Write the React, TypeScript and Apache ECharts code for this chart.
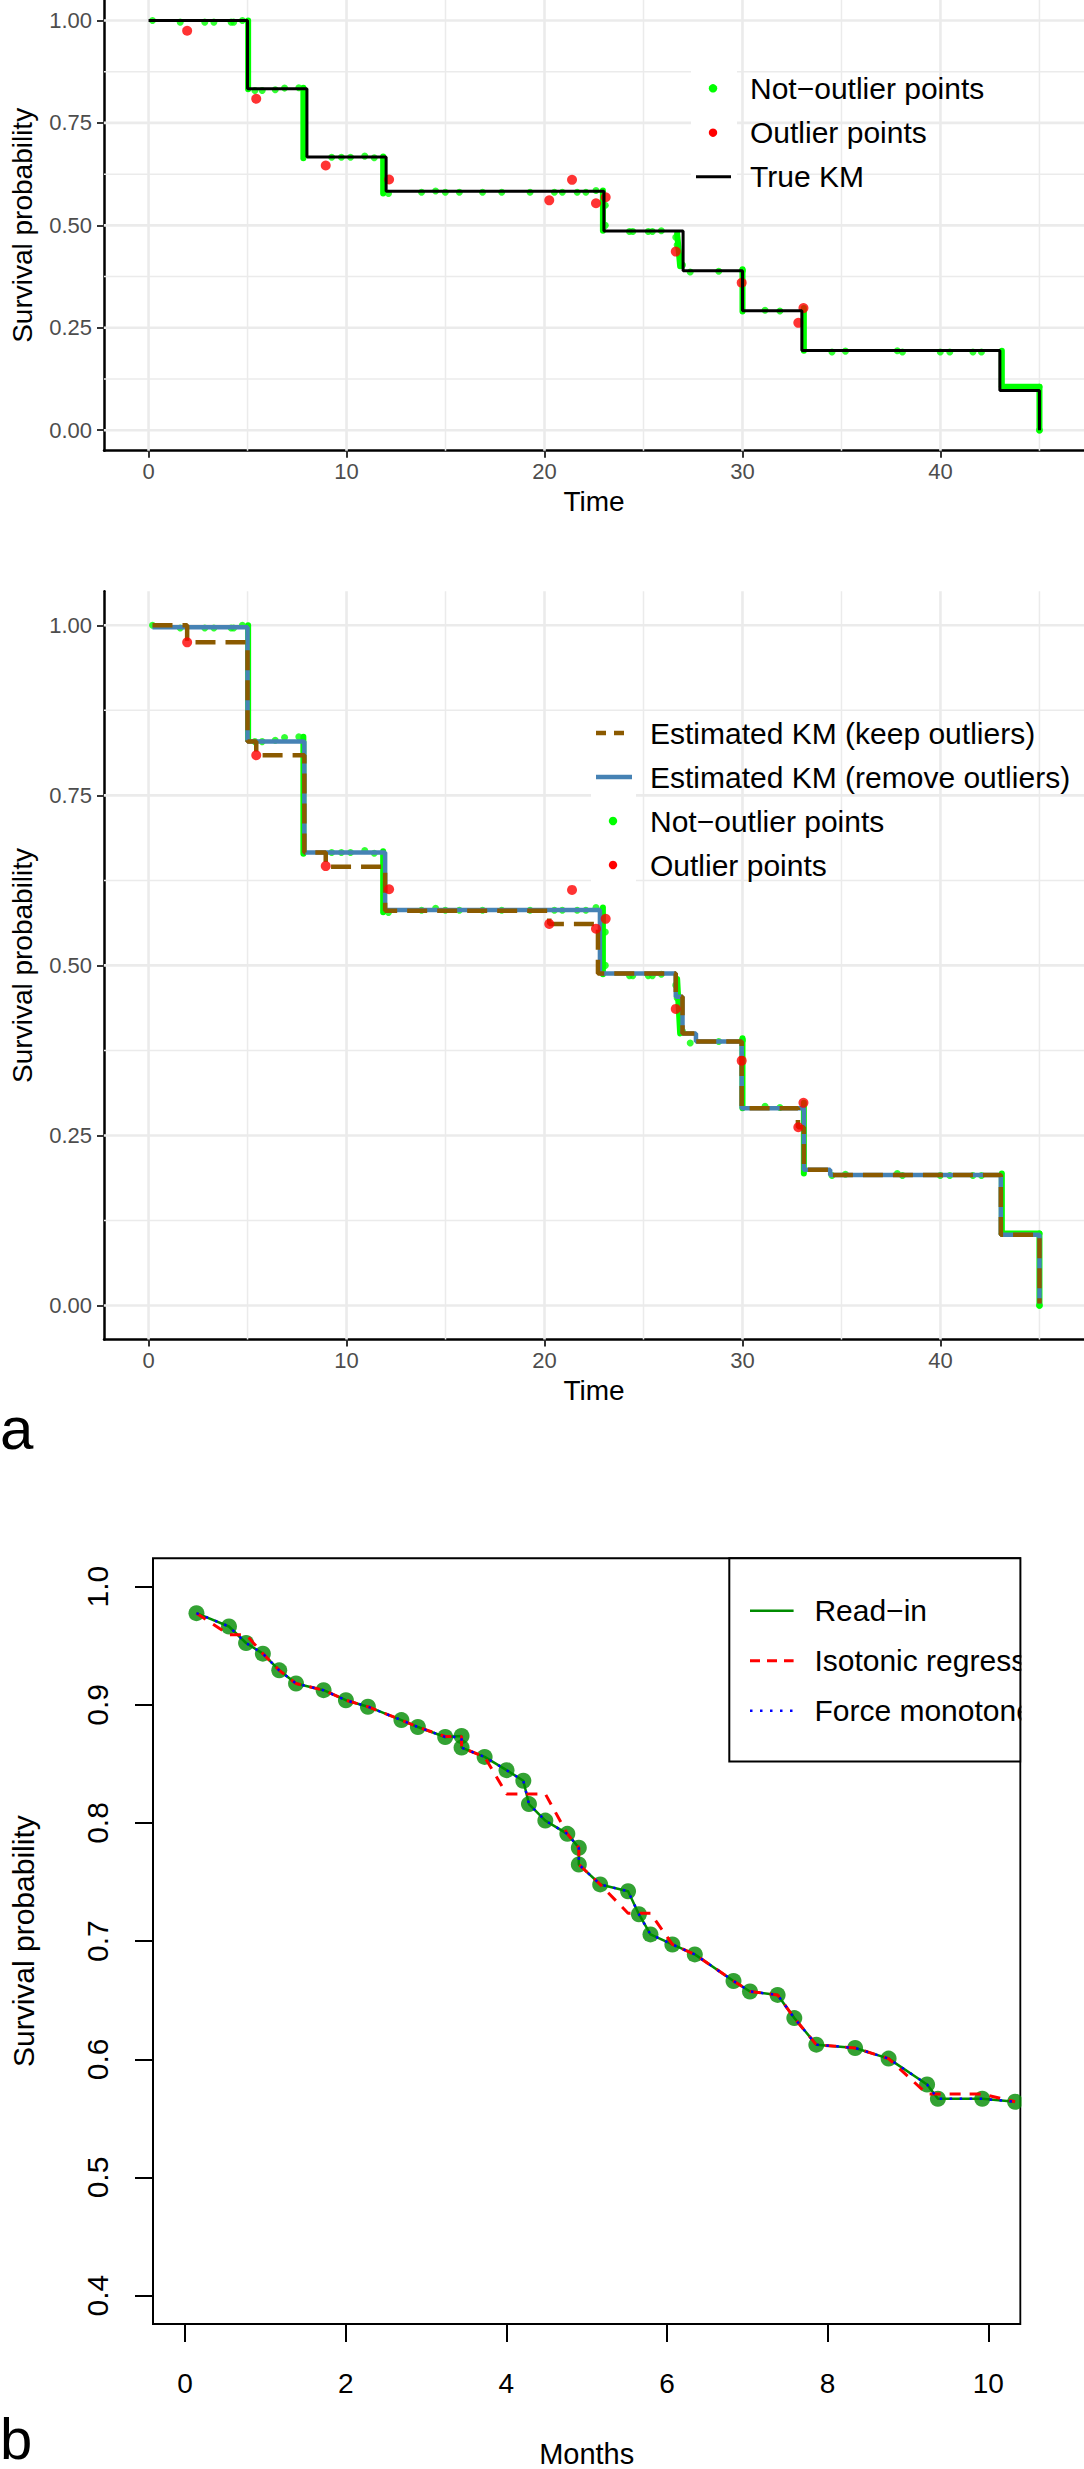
import React, { useEffect, useRef } from "react";
import * as echarts from "echarts";

const FONT = "'Liberation Sans', Arial, Helvetica, sans-serif";

// ---------- Panel a : data (time, survival probability) ----------
const trueKmTime = [0, 5, 8, 12, 23, 27, 30, 33, 43, 45];
const trueKmSurv = [1, 0.8333, 0.6667, 0.5833, 0.4861, 0.3889, 0.2917, 0.1944, 0.0972, 0];

const keepTime = [0.2, 1.95, 5.0, 5.44, 7.87, 8.95, 11.95, 20.24, 22.7, 26.63, 26.97, 27.65, 29.96, 32.8, 33.1, 34.43, 43.05, 45.0];
const keepSurv = [1.0, 0.975, 0.829, 0.809, 0.666, 0.645, 0.5805, 0.561, 0.488, 0.454, 0.4, 0.388, 0.29, 0.262, 0.1994, 0.192, 0.104, 0.003];

const removeTime = [0.2, 5.0, 7.87, 11.95, 22.8, 26.63, 26.97, 27.65, 29.96, 33.1, 34.43, 43.05, 45.0];
const removeSurv = [0.997, 0.829, 0.666, 0.5815, 0.488, 0.454, 0.4, 0.388, 0.29, 0.1994, 0.192, 0.104, 0.003];

const notOutlierTime = [0.2, 1.6, 2.84, 3.3, 4.17, 4.3, 4.74, 5.37, 5.74, 6.4, 6.87, 7.59, 9.25, 9.74, 10.2, 10.92, 11.4, 12.12, 13.79, 14.5, 14.99, 15.7, 16.87, 17.84, 19.27, 20.5, 20.9, 21.65, 22.09, 22.6, 23.07, 23.07, 24.29, 24.46, 25.24, 25.45, 25.9, 26.63, 26.7, 26.97, 27.36, 28.8, 30.0, 31.14, 31.89, 34.52, 35.2, 37.82, 38.08, 39.99, 40.47, 41.64, 42.07, 45.0];
const notOutlierSurv = [1.0, 0.996, 0.996, 0.996, 0.996, 0.996, 1.0, 0.829, 0.829, 0.831, 0.835, 0.836, 0.666, 0.666, 0.666, 0.669, 0.665, 0.578, 0.581, 0.584, 0.581, 0.581, 0.581, 0.581, 0.581, 0.581, 0.581, 0.581, 0.581, 0.585, 0.549, 0.5, 0.485, 0.485, 0.485, 0.485, 0.487, 0.471, 0.452, 0.403, 0.386, 0.388, 0.39, 0.293, 0.291, 0.191, 0.193, 0.194, 0.191, 0.191, 0.191, 0.191, 0.191, 0.0];

// runs of densely packed not-outlier points (start -> end)
const runTime0 = [5.03, 7.82, 11.85, 22.95, 26.7, 30.0, 33.1, 43.1, 43.1, 45.0];
const runSurv0 = [1.0, 0.836, 0.668, 0.585, 0.48, 0.393, 0.298, 0.194, 0.106, 0.106];
const runTime1 = [5.03, 7.82, 11.85, 22.95, 26.85, 30.0, 33.1, 43.1, 45.0, 45.0];
const runSurv1 = [0.832, 0.664, 0.578, 0.487, 0.4, 0.29, 0.194, 0.106, 0.106, 0.0];

const outlierTime = [1.95, 5.44, 8.95, 12.15, 20.24, 21.39, 22.6, 23.09, 26.63, 29.96, 33.08, 32.82];
const outlierSurv = [0.975, 0.809, 0.646, 0.612, 0.561, 0.611, 0.554, 0.5685, 0.436, 0.36, 0.298, 0.262];

const timeTicks = [0, 10, 20, 30, 40];
const timeMinor = [5, 15, 25, 35, 45];
const survTicks = [0, 0.25, 0.5, 0.75, 1];
const survMinor = [0.125, 0.375, 0.625, 0.875];

// ---------- Panel b : data ----------
const months = [0.141, 0.546, 0.759, 0.968, 1.172, 1.381, 1.724, 2.002, 2.276, 2.693, 2.898, 3.238, 3.442, 3.442, 3.729, 4.002, 4.211, 4.281, 4.485, 4.759, 4.902, 4.902, 5.168, 5.515, 5.65, 5.794, 6.067, 6.346, 6.828, 7.033, 7.377, 7.585, 7.859, 8.342, 8.759, 9.238, 9.373, 9.925, 10.334];
const readIn = [0.9776, 0.9663, 0.9523, 0.9433, 0.9292, 0.918, 0.9124, 0.9039, 0.8984, 0.8871, 0.8812, 0.8728, 0.8736, 0.8638, 0.8559, 0.8447, 0.8357, 0.816, 0.802, 0.7908, 0.779, 0.7649, 0.748, 0.7422, 0.7228, 0.7057, 0.6972, 0.6888, 0.6663, 0.6574, 0.6545, 0.6349, 0.6124, 0.6096, 0.6006, 0.5787, 0.5666, 0.5666, 0.5641];
const isotonic = [0.9776, 0.9593, 0.9593, 0.9433, 0.9292, 0.918, 0.9124, 0.9039, 0.8984, 0.8871, 0.8812, 0.8732, 0.8732, 0.8638, 0.8559, 0.8246, 0.8246, 0.8246, 0.8246, 0.7908, 0.779, 0.7649, 0.748, 0.7236, 0.7236, 0.7236, 0.6972, 0.6888, 0.6663, 0.6574, 0.6545, 0.6349, 0.6124, 0.6096, 0.6006, 0.5706, 0.5706, 0.5706, 0.5641];
const forceMono = [0.9776, 0.9663, 0.9523, 0.9433, 0.9292, 0.918, 0.9124, 0.9039, 0.8984, 0.8871, 0.8812, 0.8728, 0.8728, 0.8638, 0.8559, 0.8447, 0.8357, 0.816, 0.802, 0.7908, 0.779, 0.7649, 0.748, 0.7422, 0.7228, 0.7057, 0.6972, 0.6888, 0.6663, 0.6574, 0.6545, 0.6349, 0.6124, 0.6096, 0.6006, 0.5787, 0.5666, 0.5666, 0.5641];

const monthTicks = [0, 2, 4, 6, 8, 10];
const bSurvTicks = [0.4, 0.5, 0.6, 0.7, 0.8, 0.9, 1.0];

// ---------- colours ----------
const GREEN = "#00FF00";
const RED = "#FF0000";
const STEEL = "#4682B4";
const BROWN = "#8B5A00";
const DKGREEN = "#008B00";
const GRID = "#EBEBEB";

const A_X = [-2.25, 47.25];
const A_Y = [-0.05, 1.05];

const zip = (xs: number[], ys: number[]) => xs.map((x, i) => [x, ys[i]]);

function gridLineSeries(gi: number) {
  const out: any[] = [];
  const mk = (data: number[][], w: number) => ({
    type: "line", xAxisIndex: gi, yAxisIndex: gi, data, symbol: "none", silent: true, z: 1,
    lineStyle: { color: GRID, width: w }, animation: false,
  });
  timeMinor.forEach((v) => out.push(mk([[v, A_Y[0]], [v, A_Y[1]]], 1.5)));
  survMinor.forEach((v) => out.push(mk([[A_X[0], v], [A_X[1], v]], 1.5)));
  timeTicks.forEach((v) => out.push(mk([[v, A_Y[0]], [v, A_Y[1]]], 2.6)));
  survTicks.forEach((v) => out.push(mk([[A_X[0], v], [A_X[1], v]], 2.6)));
  return out;
}

function pointSeries(gi: number) {
  const out: any[] = [];
  runTime0.forEach((t, i) => {
    out.push({
      type: "line", xAxisIndex: gi, yAxisIndex: gi, symbol: "none", silent: true, z: 2,
      data: [[t, runSurv0[i]], [runTime1[i], runSurv1[i]]],
      lineStyle: { color: GREEN, width: 6, cap: "round" },
    });
  });
  out.push({
    type: "scatter", name: "Not−outlier points", xAxisIndex: gi, yAxisIndex: gi, z: 3, silent: true,
    data: zip(notOutlierTime, notOutlierSurv), symbol: "circle", symbolSize: 7,
    itemStyle: { color: GREEN },
  });
  return out;
}

function outlierSeries(gi: number) {
  return {
    type: "scatter", name: "Outlier points", xAxisIndex: gi, yAxisIndex: gi, z: 6, silent: true,
    data: zip(outlierTime, outlierSurv), symbol: "circle", symbolSize: 10,
    itemStyle: { color: RED },
  };
}

function ggX(gi: number) {
  return {
    type: "value", gridIndex: gi, min: A_X[0], max: A_X[1],
    axisLine: { show: true, onZero: false, lineStyle: { color: "#000", width: 2.5 } },
    axisTick: { show: true, length: 7, customValues: timeTicks, lineStyle: { color: "#333", width: 2 } },
    axisLabel: { customValues: timeTicks, margin: 10, fontSize: 22, color: "#4D4D4D", fontFamily: FONT, formatter: (v: number) => String(v) },
    splitLine: { show: false },
    name: "Time", nameLocation: "middle", nameGap: 37,
    nameTextStyle: { fontSize: 28, color: "#000", fontFamily: FONT },
  };
}

function ggY(gi: number) {
  return {
    type: "value", gridIndex: gi, min: A_Y[0], max: A_Y[1],
    axisLine: { show: true, onZero: false, lineStyle: { color: "#000", width: 2.5 } },
    axisTick: { show: true, length: 7, customValues: survTicks, lineStyle: { color: "#333", width: 2 } },
    axisLabel: { customValues: survTicks, margin: 12, fontSize: 22, color: "#4D4D4D", fontFamily: FONT, formatter: (v: number) => v.toFixed(2) },
    splitLine: { show: false },
    name: "Survival probability", nameLocation: "middle", nameGap: 68,
    nameTextStyle: { fontSize: 28, color: "#000", fontFamily: FONT },
  };
}

function txt(x: number, y: number, text: string, size: number, extra: any = {}) {
  return {
    type: "text", x, y, z: 60, silent: true,
    style: { text, fontSize: size, fontFamily: FONT, fill: "#000", align: "left", verticalAlign: "middle", ...extra },
  };
}

function buildOption() {
  const series: any[] = [];
  // panel 1
  series.push(...gridLineSeries(0));
  series.push(...pointSeries(0));
  series.push(outlierSeries(0));
  series.push({
    type: "line", name: "True KM", xAxisIndex: 0, yAxisIndex: 0, z: 7, silent: true,
    data: zip(trueKmTime, trueKmSurv), step: "end", symbol: "none",
    lineStyle: { color: "#000", width: 3 },
  });
  // panel 2
  series.push(...gridLineSeries(1));
  series.push(...pointSeries(1));
  series.push({
    type: "line", name: "Estimated KM (remove outliers)", xAxisIndex: 1, yAxisIndex: 1, z: 4, silent: true,
    data: zip(removeTime, removeSurv), step: "end", symbol: "none",
    lineStyle: { color: STEEL, width: 4.5 },
  });
  series.push({
    type: "line", name: "Estimated KM (keep outliers)", xAxisIndex: 1, yAxisIndex: 1, z: 5, silent: true,
    data: zip(keepTime, keepSurv), step: "end", symbol: "none",
    lineStyle: { color: BROWN, width: 4.5, type: [20, 10] },
  });
  series.push(outlierSeries(1));
  // panel b
  series.push({
    type: "line", name: "Read−in", xAxisIndex: 2, yAxisIndex: 2, z: 3, silent: true,
    data: zip(months, readIn), symbol: "none", lineStyle: { color: DKGREEN, width: 2.5 },
  });
  series.push({
    type: "scatter", xAxisIndex: 2, yAxisIndex: 2, z: 4, silent: true,
    data: zip(months, readIn), symbol: "circle", symbolSize: 16, itemStyle: { color: DKGREEN },
  });
  series.push({
    type: "line", name: "Isotonic regression", xAxisIndex: 2, yAxisIndex: 2, z: 5, silent: true,
    data: zip(months, isotonic), symbol: "none", lineStyle: { color: RED, width: 3, type: [11, 9] },
  });
  series.push({
    type: "line", name: "Force monotone", xAxisIndex: 2, yAxisIndex: 2, z: 6, silent: true,
    data: zip(months, forceMono), symbol: "none", lineStyle: { color: "#0000FF", width: 2.5, type: [2.5, 7.5] },
  });

  const graphic: any[] = [
    // panel 1 legend
    { type: "rect", z: 3, silent: true, shape: { x: 691, y: 66, width: 46, height: 133 }, style: { fill: "#fff" } },
    { type: "circle", z: 60, silent: true, shape: { cx: 713, cy: 88.3, r: 4.2 }, style: { fill: GREEN } },
    { type: "circle", z: 60, silent: true, shape: { cx: 713, cy: 132.7, r: 4.2 }, style: { fill: RED } },
    { type: "line", z: 60, silent: true, shape: { x1: 696, y1: 176.7, x2: 731, y2: 176.7 }, style: { stroke: "#000", lineWidth: 3 } },
    txt(750, 88.3, "Not−outlier points", 30),
    txt(750, 132.7, "Outlier points", 30),
    txt(750, 176.7, "True KM", 30),
    // panel 2 legend
    { type: "rect", z: 3, silent: true, shape: { x: 591, y: 711, width: 45, height: 176 }, style: { fill: "#fff" } },
    { type: "line", z: 60, silent: true, shape: { x1: 596, y1: 733, x2: 632, y2: 733 }, style: { stroke: BROWN, lineWidth: 4.5, lineDash: [10, 8] } },
    { type: "line", z: 60, silent: true, shape: { x1: 596, y1: 777, x2: 632, y2: 777 }, style: { stroke: STEEL, lineWidth: 4.5 } },
    { type: "circle", z: 60, silent: true, shape: { cx: 613, cy: 821, r: 4.2 }, style: { fill: GREEN } },
    { type: "circle", z: 60, silent: true, shape: { cx: 613, cy: 865, r: 4.2 }, style: { fill: RED } },
    txt(650, 733, "Estimated KM (keep outliers)", 30),
    txt(650, 777, "Estimated KM (remove outliers)", 30),
    txt(650, 821, "Not−outlier points", 30),
    txt(650, 865, "Outlier points", 30),
    // panel b legend
    { type: "rect", z: 50, silent: true, shape: { x: 729.3, y: 1558.3, width: 291.1, height: 203.1 }, style: { fill: "#fff", stroke: "#000", lineWidth: 2 } },
    { type: "line", z: 60, silent: true, shape: { x1: 750, y1: 1610.7, x2: 793.6, y2: 1610.7 }, style: { stroke: DKGREEN, lineWidth: 2.5 } },
    { type: "line", z: 60, silent: true, shape: { x1: 750, y1: 1660.7, x2: 793.6, y2: 1660.7 }, style: { stroke: RED, lineWidth: 3, lineDash: [10, 7] } },
    { type: "line", z: 60, silent: true, shape: { x1: 750, y1: 1710.7, x2: 793.6, y2: 1710.7 }, style: { stroke: "#0000FF", lineWidth: 2.5, lineDash: [2.5, 7.5] } },
    txt(814.4, 1610.7, "Read−in", 30),
    txt(814.4, 1660.7, "Isotonic regression", 30),
    txt(814.4, 1710.7, "Force monotone", 30),
    // clip everything that spills past the right edge of panel b's box
    { type: "rect", z: 100, silent: true, shape: { x: 1021.6, y: 1540, width: 70, height: 800 }, style: { fill: "#fff" } },
    // panel tags
    txt(0, 1428, "a", 60),
    txt(0, 2438, "b", 58),
  ];

  return {
    animation: false,
    backgroundColor: "#ffffff",
    textStyle: { fontFamily: FONT },
    grid: [
      { left: 94, top: 0, width: 990, height: 450.7, show: false, containLabel: false },
      { left: 94, top: 591.3, width: 990, height: 748.2, show: false, containLabel: false },
      { left: 140.7, top: 1558.3, width: 879.7, height: 768.4, show: true, borderColor: "#000", borderWidth: 2, backgroundColor: "transparent", containLabel: false },
    ],
    xAxis: [
      ggX(0),
      ggX(1),
      {
        type: "value", gridIndex: 2, min: -0.4, max: 10.4,
        axisLine: { show: false, onZero: false },
        axisTick: { show: true, length: 18, customValues: monthTicks, lineStyle: { color: "#000", width: 2 } },
        axisLabel: { customValues: monthTicks, margin: 45, fontSize: 28, color: "#000", fontFamily: FONT, formatter: (v: number) => String(v) },
        splitLine: { show: false },
        name: "Months", nameLocation: "middle", nameGap: 115,
        nameTextStyle: { fontSize: 29, color: "#000", fontFamily: FONT },
      },
    ],
    yAxis: [
      ggY(0),
      ggY(1),
      {
        type: "value", gridIndex: 2, min: 0.376, max: 1.024,
        axisLine: { show: false, onZero: false },
        axisTick: { show: true, length: 18, customValues: bSurvTicks, lineStyle: { color: "#000", width: 2 } },
        axisLabel: { customValues: bSurvTicks, rotate: 90, margin: 41, fontSize: 30, color: "#000", fontFamily: FONT, formatter: (v: number) => v.toFixed(1) },
        splitLine: { show: false },
        name: "Survival probability", nameLocation: "middle", nameGap: 115,
        nameTextStyle: { fontSize: 30, color: "#000", fontFamily: FONT },
      },
    ],
    series,
    graphic,
  };
}

export default function App() {
  const ref = useRef<HTMLDivElement>(null);
  useEffect(() => {
    document.body.style.margin = "0";
    const chart = echarts.init(ref.current as HTMLDivElement, null, { renderer: "svg", width: 1084, height: 2469 });
    chart.setOption(buildOption() as any);
    return () => chart.dispose();
  }, []);
  return (
    <div
      ref={ref}
      style={{ position: "absolute", left: 0, top: 0, width: 1084, height: 2469, background: "#fff" }}
    />
  );
}
